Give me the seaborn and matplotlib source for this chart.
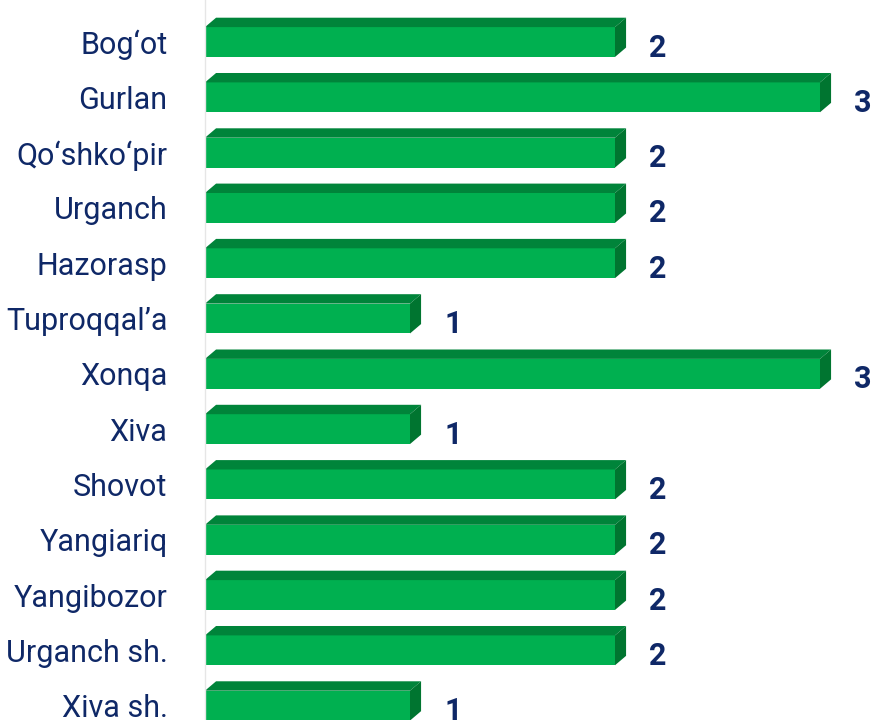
import matplotlib
matplotlib.use("Agg")
import matplotlib.pyplot as plt
from matplotlib.patches import Polygon
import seaborn as sns
import pandas as pd

# Districts and their values, top to bottom
districts = ["Bog‘ot", "Gurlan", "Qo‘shko‘pir", "Urganch", "Hazorasp", "Tuproqqal’a",
             "Xonqa", "Xiva", "Shovot", "Yangiariq", "Yangibozor", "Urganch sh.", "Xiva sh."]
values = [2, 3, 2, 2, 2, 1, 3, 1, 2, 2, 2, 2, 1]

df = pd.DataFrame({"district": districts, "value": values})

sns.set_style("white")
plt.rcParams['font.family'] = ['Roboto', 'DejaVu Sans']

navy = "#0f2867"
front = "#00b050"
top = "#00843a"
side = "#007530"

bar_h = 0.54   # front face height (in row units)
dx = 0.054     # 3D depth along x (data units)
dy = 0.17      # 3D depth along y (row units)

fig = plt.figure(figsize=(8.73, 7.2), dpi=100)
ax = fig.add_axes([205 / 873, 0, 668 / 873, 1])

sns.barplot(data=df, y="district", x="value", orient="h", color=front,
            width=bar_h, saturation=1, edgecolor="none", ax=ax)

# add the top and right faces to get the 3D look
for i, v in enumerate(values):
    y0 = i - bar_h / 2
    y1 = i + bar_h / 2
    ax.add_patch(Polygon([(0, y0), (v, y0), (v + dx, y0 - dy), (dx, y0 - dy)],
                         closed=True, facecolor=top, edgecolor="none"))
    ax.add_patch(Polygon([(v, y0), (v + dx, y0 - dy), (v + dx, y1 - dy), (v, y1)],
                         closed=True, facecolor=side, edgecolor="none"))
    ax.text(v + 0.21, i + 0.1, str(v), ha="center", va="center",
            fontsize=22, fontweight="bold", color=navy)

ax.set_xlim(0, 668 / 205)
ax.set_ylim(12.26, -0.76)

ax.set_xlabel("")
ax.set_ylabel("")
ax.set_xticks([])
ax.tick_params(axis="y", length=0, pad=27, labelsize=22, labelcolor=navy)

for s in ["top", "right", "bottom"]:
    ax.spines[s].set_visible(False)
ax.spines["left"].set_color("#e6e6e6")
ax.spines["left"].set_linewidth(1)

plt.savefig("out.png", dpi=100)
